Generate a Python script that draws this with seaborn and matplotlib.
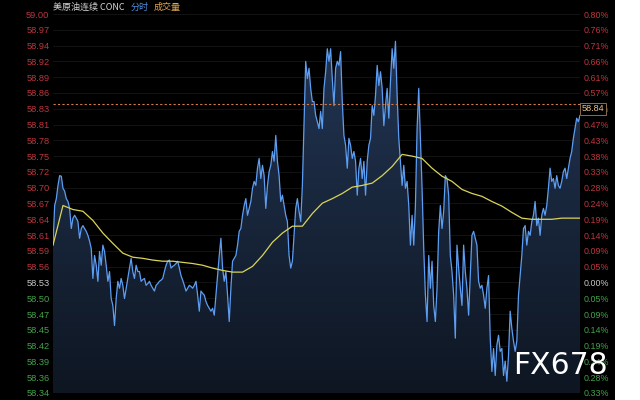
import numpy as np
import pandas as pd
import seaborn as sns
import matplotlib.pyplot as plt
import matplotlib.transforms as mtransforms
from matplotlib.colors import LinearSegmentedColormap
from matplotlib.patches import Rectangle


# ============================
# Intraday price (left to right)
# ============================

price_a = [58.595, 58.664, 58.676, 58.699, 58.716, 58.715, 58.694, 58.689, 58.676, 58.671,
           58.659, 58.624, 58.642, 58.647, 58.642, 58.636, 58.607, 58.624, 58.629, 58.624,
           58.619, 58.612, 58.602, 58.589, 58.537, 58.577, 58.560, 58.532, 58.584, 58.560,
           58.595, 58.584, 58.560, 58.532, 58.549, 58.502, 58.490, 58.455, 58.502, 58.532,
           58.520, 58.537, 58.525, 58.502, 58.520, 58.537, 58.555, 58.572, 58.549, 58.537,
           58.560, 58.549]

price_b = [58.549, 58.532, 58.535, 58.537, 58.525, 58.528, 58.532, 58.525, 58.520, 58.515,
           58.525, 58.528, 58.532, 58.534, 58.537, 58.549, 58.560, 58.567, 58.569, 58.555,
           58.558, 58.560, 58.563, 58.567, 58.555, 58.542, 58.534, 58.525, 58.515, 58.520,
           58.525, 58.523, 58.520, 58.525, 58.532, 58.508, 58.480, 58.515, 58.511, 58.508,
           58.497, 58.490, 58.485, 58.480, 58.485, 58.473, 58.508, 58.542, 58.577, 58.607,
           58.555, 58.532, 58.549, 58.508, 58.462, 58.520]

price_c = [58.567, 58.572, 58.577, 58.595, 58.619, 58.624, 58.647, 58.664, 58.676, 58.647,
           58.659, 58.671, 58.694, 58.706, 58.699, 58.729, 58.746, 58.711, 58.734, 58.716,
           58.659, 58.699, 58.723, 58.734, 58.758, 58.741, 58.786, 58.741, 58.716, 58.671,
           58.682, 58.664, 58.647, 58.636, 58.577, 58.555, 58.567, 58.612, 58.659, 58.676,
           58.654, 58.636, 58.699, 58.810, 58.915, 58.885, 58.903, 58.868, 58.845]

price_d = [58.845, 58.821, 58.810, 58.798, 58.828, 58.798, 58.868, 58.897, 58.937, 58.915,
           58.937, 58.885, 58.838, 58.903, 58.915, 58.908, 58.932, 58.845, 58.786, 58.769,
           58.729, 58.781, 58.769, 58.746, 58.758, 58.741, 58.682, 58.729, 58.746, 58.711,
           58.741, 58.682, 58.741, 58.769, 58.781, 58.838, 58.821, 58.856, 58.908, 58.873,
           58.897, 58.868, 58.803, 58.838, 58.868, 58.816, 58.880, 58.937, 58.903, 58.950,
           58.856, 58.781, 58.741, 58.699]

price_e = [58.734, 58.694, 58.706, 58.664, 58.595, 58.647, 58.595, 58.664, 58.798, 58.868,
           58.781, 58.694, 58.589, 58.508, 58.462, 58.577, 58.520, 58.567, 58.490, 58.462,
           58.520, 58.619, 58.664, 58.624, 58.654, 58.716, 58.711, 58.682, 58.577, 58.549,
           58.508, 58.433, 58.595, 58.555, 58.520, 58.490, 58.595, 58.549, 58.520, 58.473,
           58.542, 58.612, 58.619, 58.607, 58.595, 58.532, 58.520, 58.525, 58.508, 58.485,
           58.520, 58.542, 58.433, 58.375, 58.415, 58.368]

price_f = [58.421, 58.438, 58.410, 58.415, 58.368, 58.393, 58.358, 58.403, 58.480, 58.450,
           58.428, 58.410, 58.428, 58.508, 58.542, 58.577, 58.624, 58.629, 58.595, 58.619,
           58.612, 58.636, 58.647, 58.671, 58.629, 58.642, 58.612, 58.647, 58.659, 58.647,
           58.664, 58.694, 58.729, 58.706, 58.711, 58.694, 58.716, 58.699, 58.694, 58.706,
           58.723, 58.729, 58.711, 58.729, 58.746, 58.758, 58.781, 58.798, 58.816, 58.810,
           58.821]

# average price line, one reading every 6 ticks
avg_price = [58.595, 58.664, 58.657, 58.654, 58.638, 58.616, 58.598, 58.581, 58.574, 58.572,
             58.569, 58.567, 58.567, 58.565, 58.563, 58.560, 58.555, 58.551, 58.548, 58.548,
             58.558, 58.577, 58.600, 58.616, 58.628, 58.628, 58.650, 58.668, 58.676, 58.685,
             58.696, 58.699, 58.703, 58.716, 58.732, 58.753, 58.750, 58.746, 58.729, 58.715,
             58.706, 58.692, 58.685, 58.680, 58.671, 58.663, 58.652, 58.642, 58.640, 58.640,
             58.640, 58.642, 58.642, 58.642]
avg_step = 6

base_price = 58.53
tick_step = 0.0275
last_price = 58.84

left_labels = ["59.00", "58.97", "58.94", "58.92", "58.89", "58.86", "58.83", "58.81",
               "58.78", "58.75", "58.72", "58.70", "58.67", "58.64", "58.61", "58.59",
               "58.56", "58.53", "58.50", "58.47", "58.45", "58.42", "58.39", "58.36",
               "58.34"]
right_labels = ["0.80%", "0.76%", "0.71%", "0.66%", "0.61%", "0.57%", "0.52%", "0.47%",
                "0.43%", "0.38%", "0.33%", "0.28%", "0.24%", "0.19%", "0.14%", "0.09%",
                "0.05%", "0.00%", "0.05%", "0.09%", "0.14%", "0.19%", "0.24%", "0.28%",
                "0.33%"]

price = price_a + price_b + price_c + price_d + price_e + price_f
df = pd.DataFrame({"t": np.arange(len(price)), "price": price})
avg_df = pd.DataFrame({"t": np.arange(len(avg_price)) * avg_step, "avg": avg_price})

ticks = base_price + tick_step * np.arange(17, -8, -1)
ymin, ymax = ticks[-1], ticks[0]

RED = "#bb363e"
GREEN = "#43a24a"
FLAT = "#c8c8c8"


def label_color(v):
    if abs(v - base_price) < 1e-6:
        return FLAT
    return RED if v > base_price else GREEN


# ============================
# Figure
# ============================

sns.set_theme(style="dark")
plt.rcParams["font.family"] = ["Liberation Sans", "Noto Sans CJK SC", "DejaVu Sans"]

fig = plt.figure(figsize=(6.4, 4.0), dpi=100, facecolor="black")
fig.patches.append(Rectangle((615 / 640, 0), 25 / 640, 1, transform=fig.transFigure,
                             facecolor="white", edgecolor="none", zorder=0))

ax = fig.add_axes([53 / 640, 7 / 400, 527 / 640, 379 / 400])
ax.set_facecolor("black")

# gradient area under the price
poly = ax.fill_between(df["t"], df["price"], ymin, color="none")
grad = np.linspace(0, 1, 256).reshape(-1, 1)
cmap = LinearSegmentedColormap.from_list("fill", ["#0e1622", "#223553"])
im = ax.imshow(grad, extent=[0, len(price) - 1, ymin, max(price)], origin="lower",
               aspect="auto", cmap=cmap, zorder=1)
im.set_clip_path(poly.get_paths()[0], transform=ax.transData)

sns.lineplot(data=df, x="t", y="price", ax=ax, color="#5d9df2", lw=0.9, zorder=3)
sns.lineplot(data=avg_df, x="t", y="avg", ax=ax, color="#d9d45a", lw=0.9, zorder=4)

ax.axhline(last_price, color="#d47a45", lw=0.8, ls=(0, (2, 2)), zorder=5)

ax.set_xlim(0, len(price) - 1)
ax.set_ylim(ymin, ymax)
ax.set_xlabel("")
ax.set_ylabel("")
ax.set_xticks([])
ax.set_yticks(ticks)
ax.set_yticklabels(left_labels)
ax.grid(axis="y", color="#161616", lw=0.6)
ax.grid(axis="x", visible=False)
ax.tick_params(axis="y", length=0, pad=2.5, labelsize=6.7)
for lab, v in zip(ax.get_yticklabels(), ticks):
    lab.set_color(label_color(v))
for s in ax.spines.values():
    s.set_visible(False)

ax2 = ax.twinx()
ax2.set_ylim(ymin, ymax)
ax2.set_yticks(ticks)
ax2.set_yticklabels(right_labels)
ax2.tick_params(axis="y", length=0, pad=2.5, labelsize=6.4)
for lab, v in zip(ax2.get_yticklabels(), ticks):
    lab.set_color(label_color(v))
for s in ax2.spines.values():
    s.set_visible(False)
ax2.grid(False)

# last price tag (sits over the 0.52% label, as in the source)
trans = mtransforms.blended_transform_factory(ax2.transAxes, ax2.transData)
ax2.text(1.003, last_price, f"{last_price:.2f}", transform=trans, ha="left", va="top",
         fontsize=6.6, color="#e9c28f", zorder=10,
         bbox=dict(boxstyle="square,pad=0.2", fc="black", ec="#9c7d5c", lw=0.6))

# title row
cjk = ["Noto Sans CJK SC", "DejaVu Sans"]
t1 = fig.text(53 / 640, 1 - 7 / 400, "美原油连续 CONC", fontsize=6.5, color="#d6d6d6",
              va="center", ha="left", family=cjk)
a2 = ax.annotate("分时", xy=(1, 0.5), xycoords=t1, xytext=(4, 0), textcoords="offset points",
                 va="center", ha="left", fontsize=6.5, color="#4f8fe0", family=cjk,
                 annotation_clip=False)
ax.annotate("成交量", xy=(1, 0.5), xycoords=a2, xytext=(4, 0), textcoords="offset points",
            va="center", ha="left", fontsize=6.5, color="#e0a34a", family=cjk,
            annotation_clip=False)

# watermark
fig.text(513 / 640, 1 - 374 / 400, "FX678", fontsize=21.5, color="white",
         family="DejaVu Sans", va="baseline", ha="left", zorder=20)

fig.savefig("out.png", dpi=100, facecolor=fig.get_facecolor())
